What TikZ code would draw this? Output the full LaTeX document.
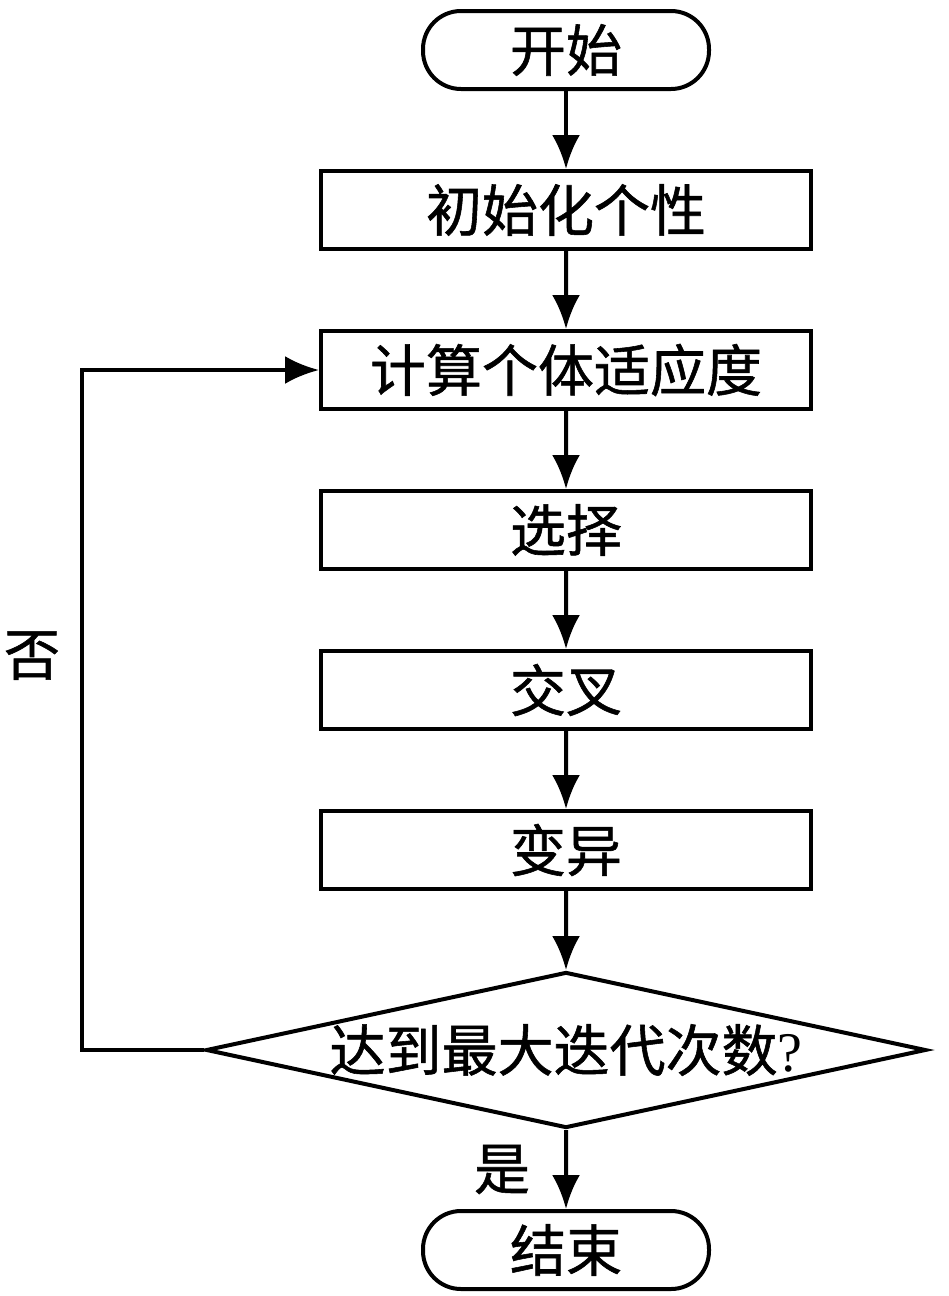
\documentclass[tikz,border=0pt]{standalone}
\usepackage{fontspec}
\setmainfont{Liberation Serif}
\newfontfamily\cjk[FakeBold=1]{Noto Sans CJK SC}
\usetikzlibrary{arrows.meta,shapes.geometric}

\begin{document}
\begin{tikzpicture}
  [
    grow                    = down,
    level distance          = 80pt,
    level 6/.style          = { level distance=100pt },
    level 7/.style          = { level distance=100pt },
    flow/.style             = {draw, -{Latex[length=17pt,width=14pt]}},
    edge from parent/.style = {flow},
    every node/.style       = {font=\cjk\fontsize{28}{32}\selectfont},
    terminal/.style         = {draw, rounded corners=19pt, minimum width=143pt, minimum height=39pt},
    process/.style          = {draw, minimum width=245pt, minimum height=39pt},
    decision/.style         = {draw, diamond, aspect=1, inner sep=0pt, minimum width=360pt, minimum height=78pt},
    line width              = 2pt
  ]
  \useasboundingbox (0,0) rectangle (474pt,-648pt);
  \node (start) [terminal] at (283pt,-25pt) { 开始 }
  child {
    node (init) [process] { 初始化个性 }
    child {
      node (fitness) [process] { 计算个体适应度 }
      child {
        node (select) [process] { 选择 }
        child {
          node (cross) [process] { 交叉 }
          child {
            node (mutate) [process] { 变异 }
            child {
              node (cond) [decision] { \makebox[0pt]{达到最大迭代次数{\rmfamily ?}} }
              child {
                node (stop) [terminal] { 结束 }
                edge from parent node [left=17pt, inner sep=0pt] { 是 }
              }
            }
          }
        }
      }
    }
  };
  % loop back when the limit is not reached
  \draw [flow] (cond.west) -- ++(-61pt,0) |- node [pos=0.29, left=10pt, inner sep=0pt] { 否 } (fitness.west);
\end{tikzpicture}
\end{document}
